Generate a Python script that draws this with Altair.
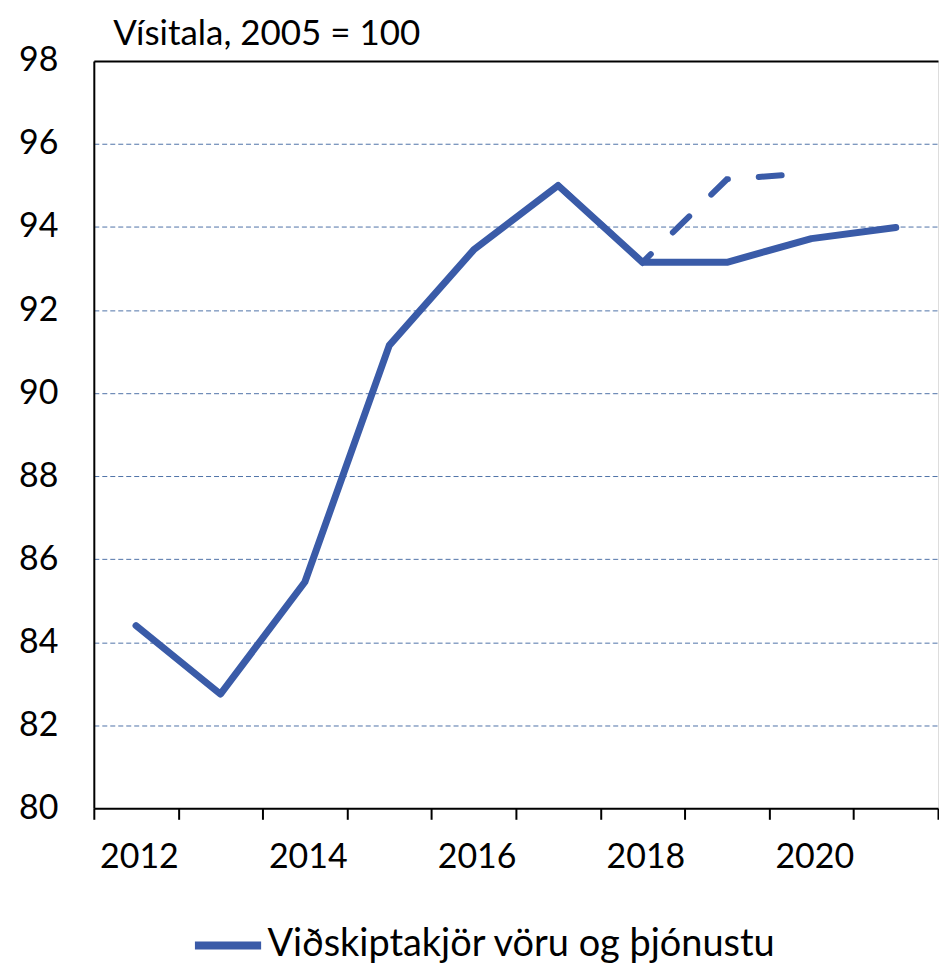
import altair as alt
import pandas as pd

years = [2012, 2013, 2014, 2015, 2016, 2017, 2018, 2019, 2020, 2021]
solid_values = [84.4, 82.75, 85.45, 91.15, 93.45, 95.0, 93.15, 93.15, 93.72, 93.99]
dashed_years = [2017, 2018, 2019, 2020]
dashed_values = [95.0, 93.15, 95.15, 95.3]
series_name = "Viðskiptakjör vöru og þjónustu"
y_title = "Vísitala, 2005 = 100"
y_ticks = [80, 82, 84, 86, 88, 90, 92, 94, 96, 98]

FONT = "Lato"
LINE = "#3A5BA8"
WIDTH = 846

df_solid = pd.DataFrame({"year": years, "value": solid_values, "series": series_name})
df_dash = pd.DataFrame({"year": dashed_years, "value": dashed_values})

x_enc = alt.X(
    "year:O",
    scale=alt.Scale(domain=years, paddingInner=0, paddingOuter=0),
    axis=alt.Axis(
        title=None,
        tickBand="extent",
        labelExpr="datum.value % 2 == 0 ? datum.label : ''",
        labelAngle=0,
        labelOffset=WIDTH / len(years) / 2,
        labelFont=FONT,
        labelFontSize=34,
        labelColor="black",
        labelPadding=38,
        tickSize=11,
        tickColor="black",
        tickWidth=2,
        domainColor="black",
        domainWidth=2,
    ),
)

y_scale = alt.Scale(domain=[80, 98], nice=False, zero=False)
y_axis = alt.Axis(
    values=y_ticks,
    title=y_title,
    titleAngle=0,
    titleAlign="left",
    titleBaseline="alphabetic",
    titleX=19,
    titleY=-16,
    titleFont=FONT,
    titleFontSize=35,
    titleFontWeight="normal",
    titleColor="black",
    labelFont=FONT,
    labelFontSize=34,
    labelColor="black",
    labelPadding=36,
    ticks=False,
    domainColor="black",
    domainWidth=2,
    grid=True,
    gridDash={"condition": {"test": "datum.value == 98", "value": []}, "value": [5, 3]},
    gridColor={"condition": {"test": "datum.value == 98", "value": "black"}, "value": "#4F72A8"},
    gridWidth={"condition": {"test": "datum.value == 98", "value": 2}, "value": 1},
    gridOpacity={"condition": {"test": "datum.value == 80", "value": 0}, "value": 1},
)

solid = alt.Chart(df_solid).mark_line(strokeWidth=7, strokeJoin="round", strokeCap="round").encode(
    x=x_enc,
    y=alt.Y("value:Q", scale=y_scale, axis=y_axis),
    color=alt.Color(
        "series:N",
        scale=alt.Scale(domain=[series_name], range=[LINE]),
        legend=alt.Legend(
            title=None,
            orient="none",
            legendX=97,
            legendY=849,
            symbolType="stroke",
            symbolSize=4400,
            symbolStrokeWidth=8,
            labelFont=FONT,
            labelFontSize=38,
            labelColor="black",
            labelOffset=2,
            labelLimit=800,
        ),
    ),
)

dashed = alt.Chart(df_dash).mark_line(
    strokeWidth=6, strokeDash=[23, 31], strokeDashOffset=5, strokeCap="round", color=LINE
).encode(
    x=alt.X("year:O"),
    y=alt.Y("value:Q"),
)

chart = (
    alt.layer(dashed, solid)
    .properties(width=WIDTH, height=749, padding={"left": 10, "top": 8, "right": 0, "bottom": 2})
    .configure_view(stroke=None)
    .configure(background="white")
)

chart.save("out.html", embed_options={"renderer": "svg", "actions": False})
